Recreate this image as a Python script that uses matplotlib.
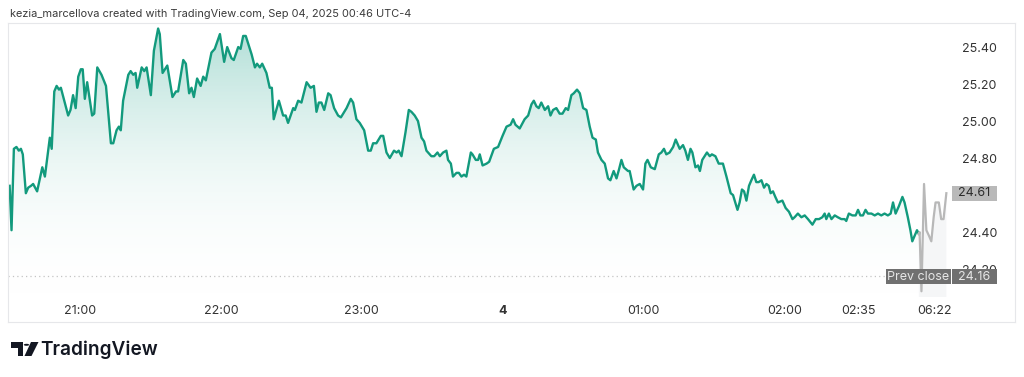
import numpy as np
import matplotlib
matplotlib.use("Agg")
import matplotlib.pyplot as plt
from matplotlib.patches import Rectangle, Polygon, Circle
from matplotlib.colors import LinearSegmentedColormap

# ---------------- data ----------------
# time in minutes relative to 21:00 (regular session), price in USD
t_reg = [-29.9, -29.1, -28.1, -27.0, -26.0, -25.1, -24.3, -23.0, -22.0, -20.8,
         -19.9, -18.2, -16.0, -14.9, -12.8, -12.0, -10.9, -9.9, -8.9, -8.1,
         -5.0, -4.0, -2.9, -1.8, -0.7, 0.4, 1.2, 2.1, 3.1, 5.2,
         6.1, 7.4, 9.2, 11.1, 13.2, 14.2, 15.6, 16.6, 17.4, 18.4,
         19.2, 20.6, 21.6, 22.7, 23.7, 24.4, 26.3, 27.4, 28.4, 30.2,
         31.5, 33.3, 34.0, 35.2, 37.2, 39.4, 40.9, 41.8, 44.0, 45.1,
         46.5, 47.5, 48.5, 49.9, 51.4, 52.5, 53.6, 56.0, 57.4, 59.6,
         61.4, 62.7, 64.5, 65.5, 67.4, 68.4, 69.5, 70.6, 73.1, 74.5,
         75.4, 76.6, 77.6, 79.4, 80.8, 81.7, 82.5, 84.7, 86.5, 87.6,
         88.6, 90.8, 91.5, 92.9, 94.3, 96.5, 98.2, 99.6, 100.7, 101.7,
         102.8, 104.0, 105.7, 106.7, 108.2, 109.9, 111.1, 113.5, 115.3, 116.3,
         117.7, 119.1, 121.0, 122.7, 123.8, 124.8, 126.2, 128.1, 129.1, 130.5,
         131.9, 133.7, 134.8, 135.7, 136.9, 138.6, 140.0, 141.1, 142.5, 143.9,
         145.4, 146.5, 147.5, 149.6, 150.8, 152.2, 153.2, 154.6, 156.0, 156.7,
         157.9, 158.8, 160.3, 161.3, 162.4, 163.5, 164.5, 166.4, 167.1, 168.5,
         169.5, 170.2, 171.4, 173.1, 174.2, 176.2, 178.0, 179.9, 181.6, 183.3,
         184.4, 185.4, 187.2, 189.3, 190.8, 192.2, 193.2, 194.3, 195.3, 196.4,
         197.9, 199.3, 200.3, 201.4, 202.8, 204.2, 205.4, 206.8, 207.8, 209.2,
         210.2, 211.6, 212.8, 214.2, 215.6, 217.0, 218.2, 219.6, 220.5, 222.0,
         223.4, 224.8, 225.8, 227.2, 228.4, 229.5, 230.5, 231.5, 233.3, 234.0,
         235.7, 236.9, 238.3, 239.7, 240.7, 241.6, 243.0, 244.7, 246.4, 247.5,
         248.6, 249.6, 251.0, 252.5, 253.6, 255.3, 256.7, 257.7, 258.8, 259.9,
         260.7, 262.0, 263.1, 263.9, 264.9, 265.9, 266.9, 268.1, 269.0, 270.5,
         271.9, 273.7, 275.2, 277.0, 278.0, 279.9, 280.8, 281.8, 282.7, 283.7,
         284.8, 285.8, 286.9, 287.9, 288.9, 290.1, 291.2, 292.2, 293.2, 294.0,
         295.0, 296.0, 297.1, 299.0, 300.4, 301.8, 303.3, 304.2, 305.6, 307.1,
         308.5, 309.9, 311.8, 313.2, 314.6, 316.0, 317.0, 317.7, 318.8, 319.9,
         321.3, 322.6, 324.1, 325.5, 326.2, 327.3, 328.8, 330.2, 331.2, 332.2,
         333.3, 334.4, 335.4, 336.9, 338.3, 339.7, 341.1, 342.5, 343.9, 345.1,
         346.1, 347.2, 348.6, 350.1, 351.0, 352.4, 353.5, 354.3, 355.3, 356.3,
         357.1]
p_reg = [24.65, 24.41, 24.85, 24.86, 24.84, 24.85, 24.82, 24.61, 24.64, 24.65,
         24.66, 24.62, 24.75, 24.70, 24.91, 24.85, 25.16, 25.19, 25.17, 25.18,
         25.03, 25.06, 25.14, 25.07, 25.24, 25.28, 25.28, 25.12, 25.21, 25.03,
         25.04, 25.29, 25.25, 25.19, 24.88, 24.88, 24.95, 24.97, 24.95, 25.11,
         25.16, 25.25, 25.27, 25.25, 25.26, 25.18, 25.29, 25.27, 25.29, 25.14,
         25.38, 25.50, 25.47, 25.26, 25.30, 25.13, 25.16, 25.16, 25.33, 25.31,
         25.15, 25.18, 25.13, 25.23, 25.19, 25.24, 25.22, 25.37, 25.39, 25.47,
         25.32, 25.40, 25.34, 25.33, 25.40, 25.39, 25.46, 25.46, 25.36, 25.29,
         25.31, 25.29, 25.31, 25.26, 25.18, 25.18, 25.01, 25.11, 25.03, 25.03,
         24.99, 25.07, 25.06, 25.11, 25.10, 25.21, 25.18, 25.19, 25.05, 25.10,
         25.10, 25.06, 25.15, 25.14, 25.07, 25.03, 25.02, 25.07, 25.12, 25.10,
         25.01, 24.99, 24.95, 24.84, 24.84, 24.88, 24.88, 24.92, 24.92, 24.83,
         24.80, 24.84, 24.83, 24.84, 24.81, 24.94, 25.06, 25.05, 25.03, 25.00,
         24.91, 24.89, 24.84, 24.81, 24.81, 24.83, 24.81, 24.83, 24.84, 24.79,
         24.77, 24.70, 24.72, 24.72, 24.70, 24.71, 24.70, 24.83, 24.82, 24.79,
         24.79, 24.82, 24.76, 24.77, 24.78, 24.85, 24.86, 24.92, 24.97, 24.98,
         25.01, 24.98, 24.96, 25.01, 25.03, 25.09, 25.11, 25.08, 25.07, 25.10,
         25.06, 25.08, 25.03, 25.06, 25.07, 25.04, 25.04, 25.07, 25.06, 25.14,
         25.15, 25.17, 25.15, 25.07, 25.06, 24.97, 24.91, 24.90, 24.83, 24.79,
         24.77, 24.69, 24.68, 24.73, 24.69, 24.74, 24.79, 24.75, 24.73, 24.73,
         24.63, 24.65, 24.66, 24.63, 24.77, 24.79, 24.75, 24.74, 24.82, 24.83,
         24.85, 24.82, 24.83, 24.86, 24.90, 24.85, 24.87, 24.84, 24.79, 24.85,
         24.83, 24.75, 24.76, 24.73, 24.79, 24.81, 24.83, 24.81, 24.82, 24.81,
         24.77, 24.77, 24.70, 24.61, 24.60, 24.52, 24.56, 24.63, 24.62, 24.57,
         24.65, 24.68, 24.71, 24.67, 24.67, 24.68, 24.64, 24.66, 24.65, 24.61,
         24.62, 24.59, 24.56, 24.57, 24.53, 24.51, 24.47, 24.48, 24.50, 24.48,
         24.49, 24.47, 24.44, 24.47, 24.47, 24.48, 24.50, 24.47, 24.50, 24.47,
         24.49, 24.48, 24.47, 24.47, 24.46, 24.50, 24.49, 24.49, 24.52, 24.49,
         24.49, 24.52, 24.50, 24.50, 24.49, 24.50, 24.49, 24.50, 24.49, 24.50,
         24.56, 24.50, 24.54, 24.59, 24.56, 24.48, 24.41, 24.35, 24.38, 24.41,
         24.39]

# extended-hours (grey) segment
t_ext = [357.1, 357.4, 358.2, 359.3, 360.3, 361.4, 362.4, 363.4, 364.2, 365.6,
         366.6, 367.6, 368.8]
p_ext = [24.39, 24.40, 24.08, 24.66, 24.41, 24.38, 24.35, 24.48, 24.56, 24.56,
         24.47, 24.47, 24.61]

prev_close = 24.16
y_ticks = [24.20, 24.40, 24.80, 25.00, 25.20, 25.40]
x_tick_pos = [0, 60, 120, 180, 240, 300, 331.5, 363.8]
x_tick_lbl = ["21:00", "22:00", "23:00", "4", "01:00", "02:00", "02:35", "06:22"]
title = "kezia_marcellova created with TradingView.com, Sep 04, 2025 00:46 UTC-4"

# ---------------- figure ----------------
W, H = 1024, 377
plt.rcParams['font.family'] = ['Inter', 'DejaVu Sans']
fig = plt.figure(figsize=(W / 100, H / 100), dpi=100)
fig.patch.set_facecolor('white')

def fx(x):
    return x / W

def fy(y):
    return 1 - y / H

ax_l, ax_r, ax_t, ax_b = 8, 948, 23, 297
ax = fig.add_axes([fx(ax_l), fy(ax_b), fx(ax_r) - fx(ax_l), (ax_b - ax_t) / H])
ax.set_facecolor('none')
for s in ax.spines.values():
    s.set_visible(False)

ymin, ymax = 24.049, 25.530
xmin, xmax = -30.6, 369.5
ax.set_xlim(xmin, xmax)
ax.set_ylim(ymin, ymax)

green = '#129a7d'

# gradient fill under the regular-session line
cmap = LinearSegmentedColormap.from_list(
    'g', [(1, 1, 1, 0), (0.03, 0.60, 0.50, 0.33)])
grad = np.linspace(0, 1, 256).reshape(-1, 1)
img = ax.imshow(grad, cmap=cmap, aspect='auto', origin='lower',
                extent=[xmin, xmax, ymin, ymax], zorder=1, vmin=0, vmax=1)
poly = ax.fill_between(t_reg, p_reg, ymin, facecolor='none', edgecolor='none')
img.set_clip_path(poly.get_paths()[0], transform=ax.transData)

# faint fill under extended-hours segment
ax.fill_between(t_ext, p_ext, ymin, facecolor='#f3f4f6', edgecolor='none',
                alpha=0.8, zorder=1)

ax.plot(t_reg, p_reg, color=green, lw=1.7, zorder=3, solid_joinstyle='round')
ax.plot(t_ext, p_ext, color='#b8b8b8', lw=1.6, zorder=3, solid_joinstyle='round')

# prev close dotted line
ax.axhline(prev_close, color='#c4c4c4', lw=0.9, ls=(0, (1, 2.5)), zorder=2)

# axes ticks
ax.set_xticks(x_tick_pos)
ax.set_xticklabels(x_tick_lbl)
ax.tick_params(axis='x', length=0, pad=6, labelsize=9, labelcolor='#333333')
for lbl in ax.get_xticklabels():
    if lbl.get_text() == "4":
        lbl.set_fontweight('bold')
ax.yaxis.tick_right()
ax.set_yticks(y_ticks)
ax.set_yticklabels([f"{v:.2f}" for v in y_ticks])
ax.tick_params(axis='y', length=0, pad=10, labelsize=9, labelcolor='#333333')

# outer frame
frame_c = '#e6e7ea'
fig.add_artist(plt.Line2D([fx(8), fx(1015)], [fy(23), fy(23)], color=frame_c, lw=0.8))
fig.add_artist(plt.Line2D([fx(8), fx(1015)], [fy(322), fy(322)], color=frame_c, lw=0.8))
fig.add_artist(plt.Line2D([fx(8), fx(8)], [fy(23), fy(322)], color=frame_c, lw=0.8))
fig.add_artist(plt.Line2D([fx(1015), fx(1015)], [fy(23), fy(322)], color=frame_c, lw=0.8))

# label boxes
def box(x0, x1, y0, y1, fc, txt, tc, size=9):
    fig.add_artist(Rectangle((fx(x0), fy(y1)), (x1 - x0) / W, (y1 - y0) / H,
                             facecolor=fc, edgecolor='none', zorder=5))
    fig.text(fx((x0 + x1) / 2), fy((y0 + y1) / 2), txt, color=tc, fontsize=size,
             ha='center', va='center', zorder=6)

box(952, 997, 186, 201, '#b9b9b9', f"{p_ext[-1]:.2f}", '#2b2b2b')
box(886, 951, 269, 284, '#707070', "Prev close", '#e6e6e6')
box(952, 997, 269, 284, '#707070', f"{prev_close:.2f}", '#e6e6e6')

# title
fig.text(fx(10), fy(14), title, fontsize=7.9, color='#3a3a3a', ha='left', va='center')

# TradingView logo
lc = '#131722'
fig.add_artist(Polygon([(fx(11), fy(342)), (fx(23), fy(342)), (fx(23), fy(356)),
                        (fx(17.5), fy(356)), (fx(17.5), fy(347.5)), (fx(11), fy(347.5))],
                       closed=True, facecolor=lc, edgecolor='none'))
fig.add_artist(Circle((fx(26.5), fy(344.8)), 2.7 / W, facecolor=lc, edgecolor='none'))
fig.add_artist(Polygon([(fx(31), fy(342)), (fx(38.5), fy(342)), (fx(31.5), fy(356)),
                        (fx(24.5), fy(356))], closed=True, facecolor=lc, edgecolor='none'))
fig.text(fx(40), fy(349.5), "TradingView", fontsize=13.7, fontweight='semibold',
         color=lc, ha='left', va='center')

fig.savefig('out.png', dpi=100, facecolor='white')
